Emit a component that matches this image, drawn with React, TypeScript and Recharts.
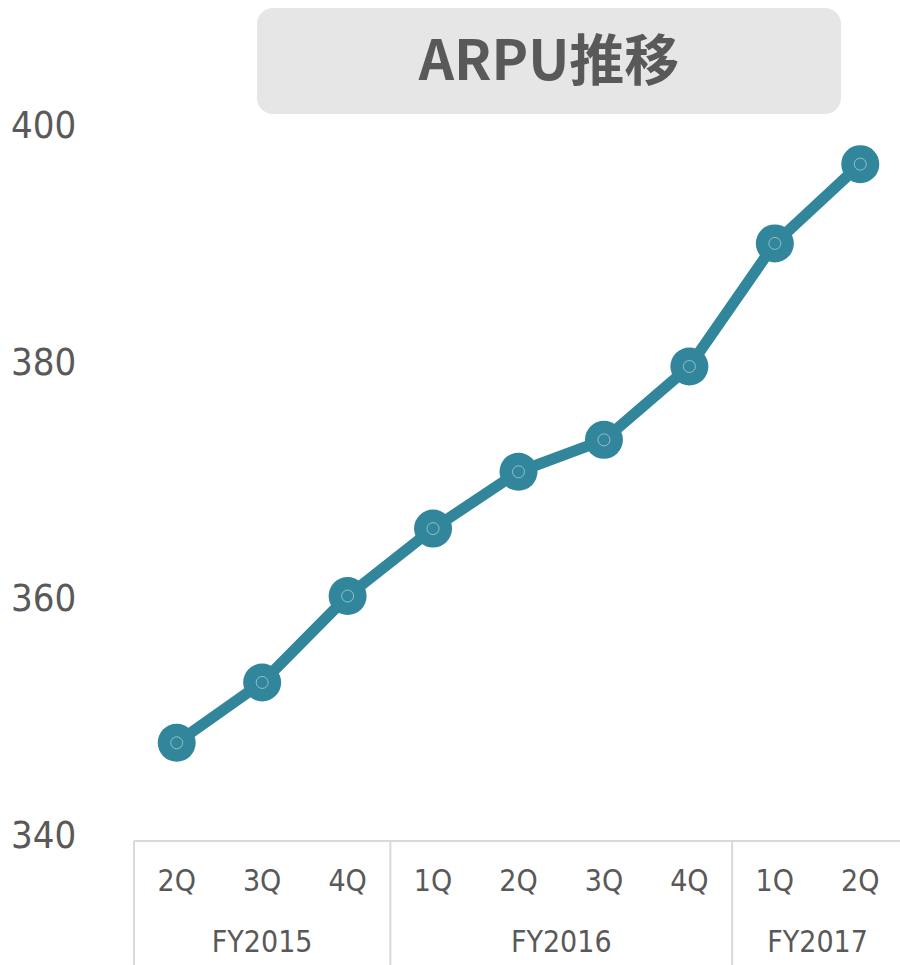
import React from "react";
import { LineChart, Line, XAxis, YAxis } from "recharts";

const quarters = ["2Q", "3Q", "4Q", "1Q", "2Q", "3Q", "4Q", "1Q", "2Q"];
const fiscalYears = ["FY2015", "FY2015", "FY2015", "FY2016", "FY2016", "FY2016", "FY2016", "FY2017", "FY2017"];
const arpu = [348.3, 353.4, 360.7, 366.4, 371.2, 373.9, 380.1, 390.5, 397.2];
const yTicks = [340, 360, 380, 400];
const title = "ARPU推移";

const data = quarters.map((q, i) => ({ key: `${fiscalYears[i]}-${q}-${i}`, q, fy: fiscalYears[i], arpu: arpu[i] }));

const CHART_W = 903;
const CHART_H = 965;
const PLOT_LEFT = 134;
const PLOT_TOP = 131;
const PLOT_BOTTOM = 841;
const BAND = (CHART_W - PLOT_LEFT) / quarters.length;

const TEAL = "#31869b";
const TEXT = "#595959";
const GRID = "#d9d9d9";
const FONT = "'DejaVu Sans Condensed', 'DejaVu Sans', sans-serif";

const YTick = (props: any) => {
  const { y, payload } = props;
  return (
    <text x={11} y={y + 7} fontSize={38} fill={TEXT} fontFamily={FONT} textAnchor="start">
      {payload.value}
    </text>
  );
};

const XTick = (props: any) => {
  const { x, index } = props;
  const i = index as number;
  const fy = fiscalYears[i];
  const isFirst = i === 0 || fiscalYears[i - 1] !== fy;
  let groupSize = 0;
  if (isFirst) {
    for (let j = i; j < fiscalYears.length && fiscalYears[j] === fy; j++) groupSize++;
  }
  const left = x - BAND / 2;
  return (
    <g>
      <text x={x} y={891} fontSize={30} fill={TEXT} fontFamily={FONT} textAnchor="middle">
        {quarters[i]}
      </text>
      {isFirst && (
        <>
          <line x1={left} y1={PLOT_BOTTOM} x2={left} y2={CHART_H} stroke={GRID} strokeWidth={2} />
          <text x={left + (groupSize * BAND) / 2} y={952} fontSize={30} fill={TEXT} fontFamily={FONT} textAnchor="middle">
            {fy}
          </text>
        </>
      )}
    </g>
  );
};

const Dot = (props: any) => {
  const { cx, cy } = props;
  if (cx == null || cy == null) return null;
  return (
    <g>
      <circle cx={cx} cy={cy} r={19} fill={TEAL} />
      <circle cx={cx} cy={cy} r={6} fill="none" stroke="rgba(255,255,255,0.45)" strokeWidth={1} />
    </g>
  );
};

export default function App() {
  return (
    <div style={{ position: "absolute", left: 0, top: 0, width: 900, height: 965, overflow: "hidden", background: "#fff" }}>
      <LineChart
        width={CHART_W}
        height={CHART_H}
        data={data}
        margin={{ top: PLOT_TOP, right: 0, bottom: 0, left: 0 }}
      >
        <XAxis
          dataKey="key"
          height={CHART_H - PLOT_BOTTOM}
          axisLine={{ stroke: GRID, strokeWidth: 2 }}
          tickLine={false}
          tick={<XTick />}
          interval={0}
          padding={{ left: BAND / 2, right: BAND / 2 }}
        />
        <YAxis
          domain={[340, 400]}
          ticks={yTicks}
          width={PLOT_LEFT}
          axisLine={false}
          tickLine={false}
          tick={<YTick />}
        />
        <Line
          dataKey="arpu"
          stroke={TEAL}
          strokeWidth={11}
          dot={<Dot />}
          activeDot={false}
          isAnimationActive={false}
        />
      </LineChart>
      <svg width={900} height={120} style={{ position: "absolute", left: 0, top: 0 }}>
        <rect x={257} y={8} width={584} height={106} rx={16} ry={16} fill="#e6e6e6" />
        <text
          x={549}
          y={80}
          textAnchor="middle"
          fontSize={55}
          fontWeight={700}
          fill={TEXT}
          fontFamily="'Noto Sans CJK JP', sans-serif"
        >
          {title}
        </text>
      </svg>
    </div>
  );
}
